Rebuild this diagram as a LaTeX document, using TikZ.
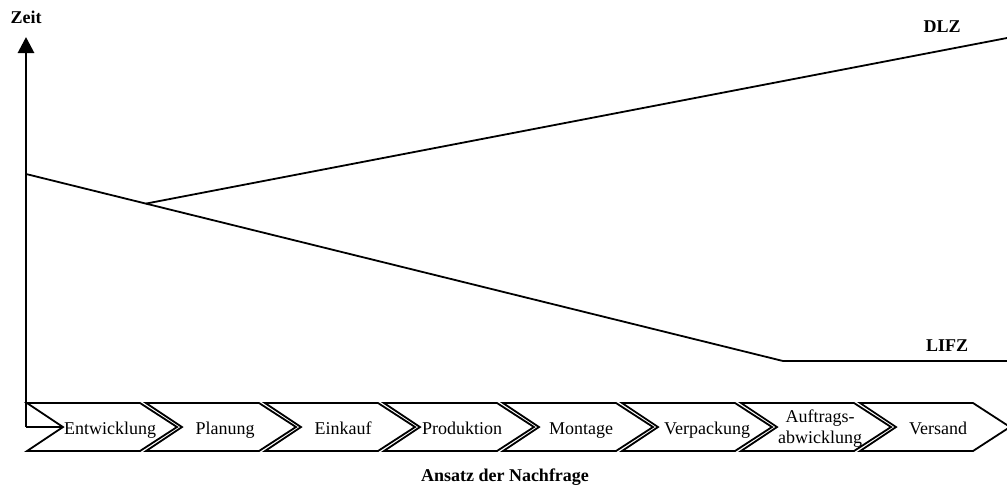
\documentclass[tikz,border=0pt]{standalone}
\usepackage{fontspec}
\setmainfont{Liberation Serif}
\usetikzlibrary{arrows.meta}
\begin{document}
\begin{tikzpicture}[x=1pt,y=-1pt,
  curve/.style={line width=1.8pt, line join=miter},
  axisline/.style={line width=2.8pt},
  chev/.style={line width=1.8pt, line join=miter, fill=white},
  steplabel/.style={font=\fontsize{18}{21}\selectfont, align=center, inner sep=0pt},
  title/.style={font=\fontsize{18}{20}\selectfont\bfseries, inner sep=0pt}]
\useasboundingbox (0,0) rectangle (1007,490);

% process chain of chevrons
\foreach \x [count=\i] in {27,146,265,384,503,622,741,860}{
  \draw[chev] (\x,403) -- ++(113,0) -- ++(37,24) -- ++(-37,24) -- ++(-113,0) -- ++(36,-24) -- cycle;
}
\node[steplabel, anchor=base] (c1) at (110,434) {Entwicklung};
\node[steplabel, anchor=base] (c2) at (225,434) {Planung};
\node[steplabel, anchor=base] (c3) at (343,434) {Einkauf};
\node[steplabel, anchor=base] (c4) at (462,434) {Produktion};
\node[steplabel, anchor=base] (c5) at (581,434) {Montage};
\node[steplabel, anchor=base] (c6) at (707,434) {Verpackung};
\node[steplabel] (c7) at (820,429) {Auftrags-\\abwicklung};
\node[steplabel, anchor=base] (c8) at (938,434) {Versand};

% axes
\coordinate (origin) at (26,427);
\coordinate (ytop) at (26,37);
\coordinate (notch) at (63,427);
\draw[axisline, -{Triangle[length=16pt,width=16pt]}] (origin) -- (ytop);
\draw[line width=1.8pt] (origin) -- (notch);

% lead time curves
\coordinate (lifzStart) at (26,174);
\coordinate (branch) at (146,203.6);
\coordinate (lifzKnee) at (783,361);
\coordinate (lifzEnd) at (1007,361);
\coordinate (dlzEnd) at (1007,38);
\draw[curve] (lifzStart) -- (lifzKnee) -- (lifzEnd);
\draw[curve] (branch) -- (dlzEnd);

% labels
\node[title] (zeit) at (26,17) {Zeit};
\node[title] (dlz) at (942,27) {DLZ};
\node[title] (lifz) at (947,346) {LIFZ};
\node[title] (xlabel) at (505,477) {Ansatz der Nachfrage};
\end{tikzpicture}
\end{document}
